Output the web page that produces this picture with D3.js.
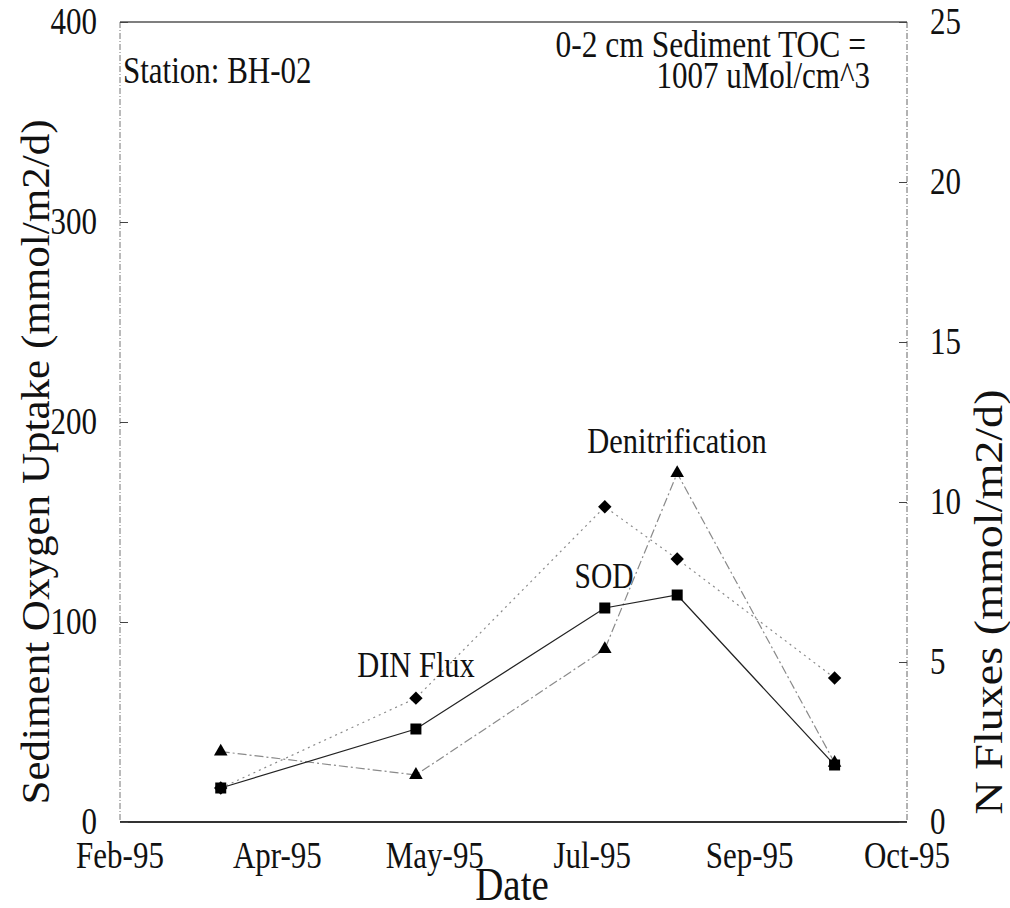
<!DOCTYPE html>
<html>
<head>
<meta charset="utf-8">
<script src="https://d3js.org/d3.v7.min.js"></script>
<style>
  body { margin: 0; background: #fff; }
  text { font-family: "Liberation Serif", "Times New Roman", serif; fill: #111; }
</style>
</head>
<body>
<div id="chart"></div>
<script>
const sampleDates = ["1995-03-19", "1995-05-20", "1995-07-19", "1995-08-11", "1995-09-30"];
const sodValues = [17, 46.5, 107, 113.5, 28.5];          // left axis, mmol/m2/d
const dinFluxValues = [1.06, 3.87, 9.85, 8.22, 4.5];     // right axis
const denitValues = [2.2, 1.47, 5.4, 10.9, 1.85];        // right axis

// axis tick labels
const xTickDates = ["1995-02-15", "1995-04-06", "1995-05-26", "1995-07-15", "1995-09-03", "1995-10-23"];
const leftTicks = [0, 100, 200, 300, 400];
const rightTicks = [0, 5, 10, 15, 20, 25];

const parse = d3.utcParse("%Y-%m-%d");
const fmt = d3.utcFormat("%b-%y");

// dimensions of the graph
const W = 1010, H = 908;
const plot = {left: 120, right: 907, top: 22, bottom: 822};
const stretch = 1.2; // scan is a bit taller than wide

const svg = d3.select("#chart")
  .append("svg")
  .attr("width", W)
  .attr("height", H);

const x = d3.scaleUtc()
  .domain([parse(xTickDates[0]), parse(xTickDates[xTickDates.length - 1])])
  .range([plot.left, plot.right]);

const yL = d3.scaleLinear().domain([0, 400]).range([plot.bottom, plot.top]);
const yR = d3.scaleLinear().domain([0, 25]).range([plot.bottom, plot.top]);

// helper for horizontal text with vertical stretch
function label(tx, ty, str, size, anchor) {
  return svg.append("text")
    .attr("transform", "translate(" + tx + "," + ty + ") scale(1," + stretch + ")")
    .attr("text-anchor", anchor || "middle")
    .style("font-size", size + "px")
    .text(str);
}

// frame
svg.append("line").attr("x1", plot.left).attr("x2", plot.right).attr("y1", plot.top).attr("y2", plot.top)
  .attr("stroke", "#555").attr("stroke-width", 1.3);
svg.append("line").attr("x1", plot.left).attr("x2", plot.left).attr("y1", plot.top).attr("y2", plot.bottom)
  .attr("stroke", "#777").attr("stroke-width", 1).attr("stroke-dasharray", "6,2,1,2");
svg.append("line").attr("x1", plot.right).attr("x2", plot.right).attr("y1", plot.top).attr("y2", plot.bottom)
  .attr("stroke", "#666").attr("stroke-width", 1).attr("stroke-dasharray", "6,2,1,2");
svg.append("line").attr("x1", plot.left).attr("x2", plot.right).attr("y1", plot.bottom).attr("y2", plot.bottom)
  .attr("stroke", "#333").attr("stroke-width", 2);

// left axis (ticks inward)
const leftAxis = svg.append("g")
  .attr("transform", "translate(" + plot.left + ",0)")
  .call(d3.axisRight(yL).tickValues(leftTicks).tickSize(8).tickFormat(""));
leftAxis.select(".domain").remove();
leftAxis.selectAll(".tick line").attr("stroke", "#444");
leftTicks.forEach(function(v) { label(97, yL(v) + 12, String(v), 31, "end"); });

// right axis (ticks inward)
const rightAxis = svg.append("g")
  .attr("transform", "translate(" + plot.right + ",0)")
  .call(d3.axisLeft(yR).tickValues(rightTicks).tickSize(8).tickFormat(""));
rightAxis.select(".domain").remove();
rightAxis.selectAll(".tick line").attr("stroke", "#444");
rightTicks.forEach(function(v) { label(930, yR(v) + 12, String(v), 31, "start"); });

// x axis labels
xTickDates.forEach(function(d) { label(x(parse(d)), 868, fmt(parse(d)), 31, "middle"); });

// axis titles
label(512, 900, "Date", 39, "middle");
svg.append("text")
  .attr("transform", "translate(49,462) rotate(-90)")
  .attr("text-anchor", "middle")
  .attr("textLength", 685).attr("lengthAdjust", "spacingAndGlyphs")
  .style("font-size", "40px")
  .text("Sediment Oxygen Uptake (mmol/m2/d)");
svg.append("text")
  .attr("transform", "translate(1002,602) rotate(-90)")
  .attr("text-anchor", "middle")
  .attr("textLength", 425).attr("lengthAdjust", "spacingAndGlyphs")
  .style("font-size", "39px")
  .text("N Fluxes (mmol/m2/d)");

// annotations
label(123, 83, "Station: BH-02", 31, "start");
label(866, 57, "0-2 cm Sediment TOC =", 31.5, "end");
label(870, 88, "1007 uMol/cm^3", 31, "end");

// series lines
const series = [
  {name: "DIN Flux", vals: dinFluxValues, y: yR, color: "#8a8a8a", dash: "2,4", sym: "diamond"},
  {name: "Denitrification", vals: denitValues, y: yR, color: "#8a8a8a", dash: "9,3,2,3", sym: "triangle"},
  {name: "SOD", vals: sodValues, y: yL, color: "#222", dash: null, sym: "square"}
];

series.forEach(function(s) {
  const pts = sampleDates.map(function(d, i) { return {date: parse(d), v: s.vals[i]}; });
  svg.append("path")
    .datum(pts)
    .attr("fill", "none")
    .attr("stroke", s.color)
    .attr("stroke-width", 1.2)
    .attr("stroke-dasharray", s.dash)
    .attr("d", d3.line()
      .x(function(d) { return x(d.date); })
      .y(function(d) { return s.y(d.v); }));
  s.pts = pts;
});

// markers on top
series.forEach(function(s) {
  let sym;
  if (s.sym === "square") sym = d3.symbol().type(d3.symbolSquare).size(121);
  else if (s.sym === "diamond") sym = d3.symbol().type(d3.symbolSquare).size(90);
  else sym = d3.symbol().type(d3.symbolTriangle).size(80);
  svg.selectAll(null)
    .data(s.pts)
    .enter().append("path")
    .attr("d", sym)
    .attr("fill", "#000")
    .attr("transform", function(d) {
      return "translate(" + x(d.date) + "," + s.y(d.v) + ")" + (s.sym === "diamond" ? " rotate(45)" : "");
    });
});

// series labels
label(416, 677, "DIN Flux", 30.5, "middle");
label(604, 588, "SOD", 29.5, "middle");
label(677, 453, "Denitrification", 30.5, "middle");
</script>
</body>
</html>
